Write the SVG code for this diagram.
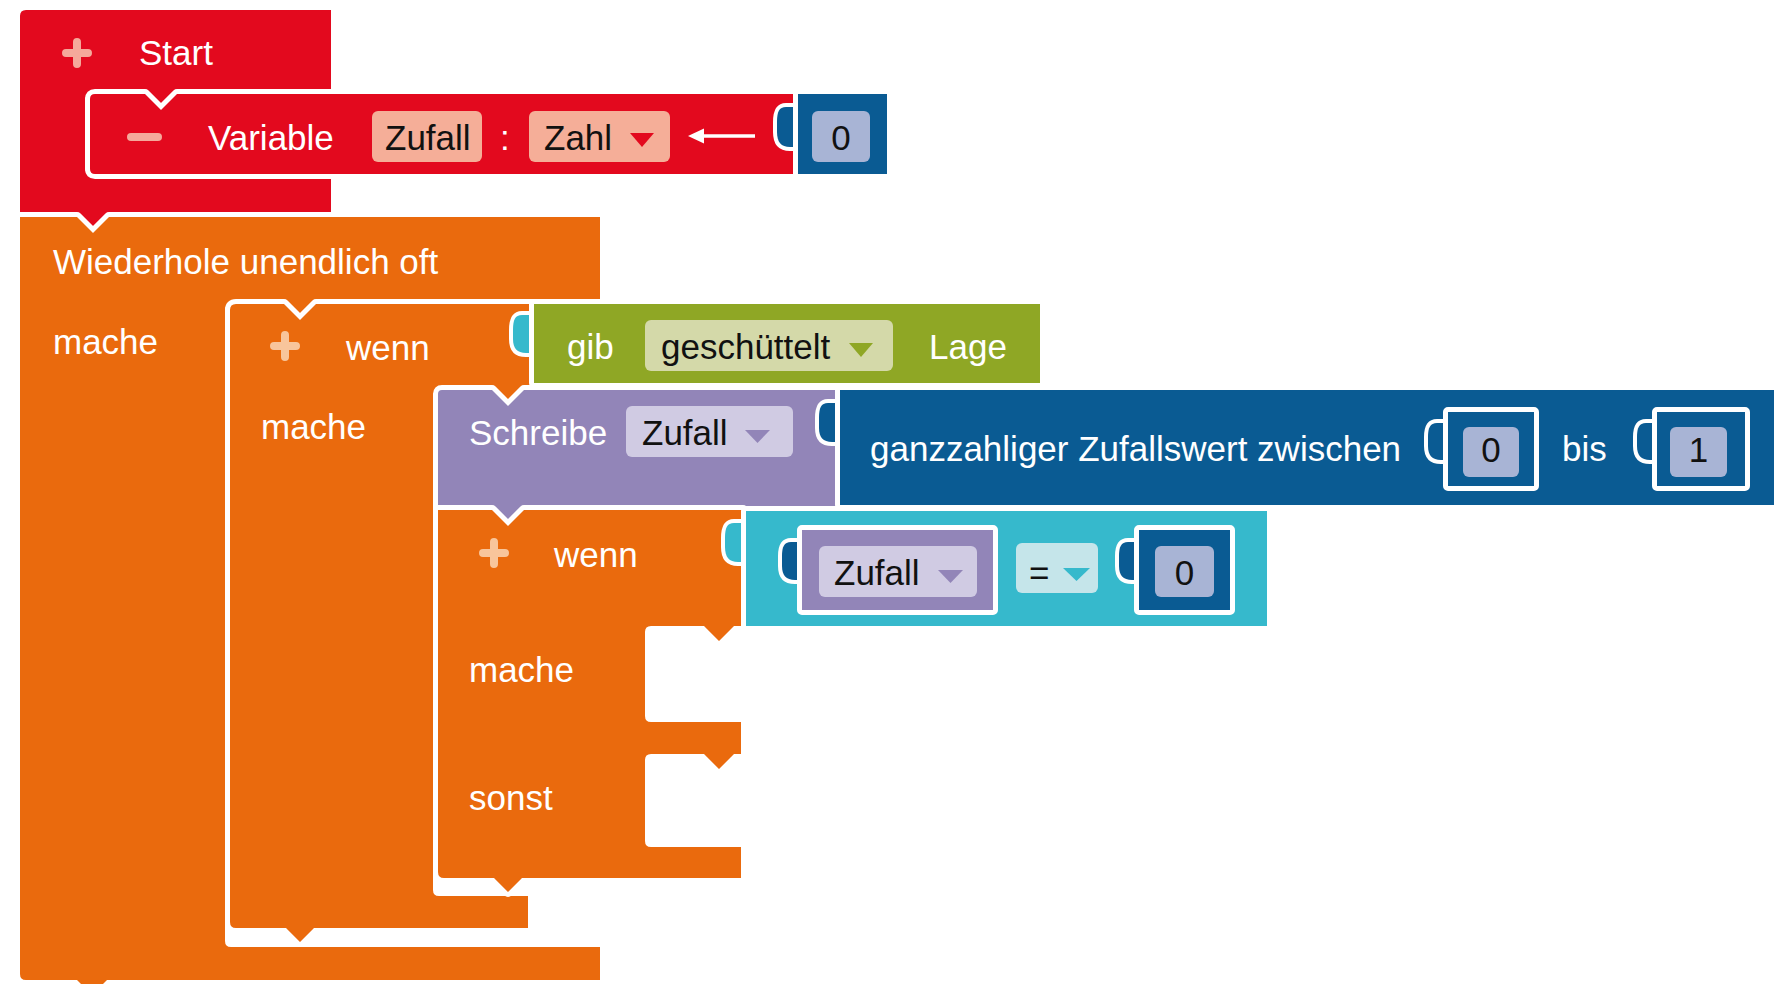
<svg xmlns="http://www.w3.org/2000/svg" width="1776" height="984" viewBox="0 0 1776 984">
  <style>
    .blk { stroke: #ffffff; stroke-width: 10; paint-order: stroke; stroke-linejoin: round; }
    .tab { stroke: #ffffff; stroke-width: 8; paint-order: stroke; stroke-linejoin: round; }
    .red { fill: #e3091e; }
    .orange { fill: #ea6a0d; }
    .green { fill: #8fa725; }
    .purple { fill: #9285b8; }
    .navy { fill: #0a5b93; }
    .teal { fill: #36b9cc; }
    .t { font-family: "Liberation Sans", Arial, Helvetica, sans-serif; font-size: 35px; fill: #ffffff; }
    .k { fill: #111111; }
    .mid { text-anchor: middle; }
    .fld { rx: 6; ry: 6; }
    .icoR { stroke: #f5a99b; stroke-width: 8; stroke-linecap: round; fill: none; }
    .icoO { stroke: #f8c59b; stroke-width: 8; stroke-linecap: round; fill: none; }
  </style>

  <rect width="1776" height="984" fill="#ffffff"/>

  <!-- Start event block -->
  <g id="start">
    <path class="blk red" d="M26,10 H331 V94 H177 L161,110 L145,94 H91 Q85,94 85,100 V168 Q85,174 91,174 H331 V217 H109 L93,233 L77,217 H20 V16 Q20,10 26,10 Z"/>
    <path class="icoR" d="M66,53 H88 M77,42 V64"/>
    <text class="t" x="139" y="65">Start</text>
  </g>

  <!-- Variable declaration -->
  <g id="variable">
    <path class="blk red" d="M95,94 H145 L161,110 L177,94 H800 V174 H95 Q90,174 90,169 V99 Q90,94 95,94 Z"/>
    <path class="icoR" d="M131,137 H158"/>
    <text class="t" x="208" y="150">Variable</text>
    <rect class="fld" x="372" y="111" width="110" height="51" fill="#f5ae98"/>
    <text class="t k" x="385" y="150">Zufall</text>
    <text class="t" x="500" y="150">:</text>
    <rect class="fld" x="529" y="111" width="141" height="51" fill="#f5ae98"/>
    <text class="t k" x="544" y="150">Zahl</text>
    <path d="M630,133 H654 L642,147 Z" fill="#e3091e"/>
  </g>

  <!-- Number 0 attached to variable -->
  <g id="var-value">
    <path class="tab navy" d="M798,107 H786 C779,107 777,112 777,122 V132 C777,142 781,147 790,147 H798 Z"/>
    <rect class="blk navy" x="798" y="94" width="89" height="80"/>
    <rect class="fld" x="812" y="111" width="58" height="51" fill="#a8b4d5"/>
    <text class="t k mid" x="841" y="150">0</text>
  </g>

  <!-- Repeat forever -->
  <g id="forever">
    <path class="blk orange" d="M20,217 H77 L93,233 L109,217 H600 V304 H316 L300,320 L284,304 H231 Q225,304 225,310 V941 Q225,947 231,947 H600 V980 H107 L92,995 L77,980 H26 Q20,980 20,974 Z"/>
    <text class="t" x="53" y="274">Wiederhole unendlich oft</text>
    <text class="t" x="53" y="354">mache</text>
  </g>

  <!-- Outer if block -->
  <g id="if-outer">
    <path class="blk orange" d="M236,304 H284 L300,320 L316,304 H536 V390 H524 L508,406 L492,390 H439 Q433,390 433,396 V890 Q433,896 439,896 H528 V928 H314 L300,942 L286,928 H236 Q230,928 230,922 V310 Q230,304 236,304 Z"/>
    <path class="icoO" d="M274,346 H296 M285,335 V357"/>
    <text class="t" x="346" y="360">wenn</text>
    <text class="t" x="261" y="439">mache</text>
  </g>

  <!-- Gesture condition -->
  <g id="gesture">
    <path class="tab teal" d="M534,315 H522 C515,315 513,320 513,330 V339 C513,348 517,353 526,353 H534 Z"/>
    <rect class="blk green" x="534" y="304" width="506" height="79"/>
    <text class="t" x="567" y="359">gib</text>
    <rect class="fld" x="645" y="320" width="248" height="51" fill="#d4d9a9"/>
    <text class="t k" x="661" y="359">geschüttelt</text>
    <path d="M849,343 H873 L861,357 Z" fill="#8fa725"/>
    <text class="t" x="929" y="359">Lage</text>
  </g>

  <!-- Set variable statement -->
  <g id="write">
    <path class="blk purple" d="M442,390 H492 L508,406 L524,390 H842 V510 H524 L508,526 L492,510 H438 V394 Q438,390 442,390 Z"/>
    <text class="t" x="469" y="445">Schreibe</text>
    <rect class="fld" x="626" y="406" width="167" height="51" fill="#d0cbe3"/>
    <text class="t k" x="642" y="445">Zufall</text>
    <path d="M745,430 H770 L757.5,443 Z" fill="#9285b8"/>
  </g>

  <!-- Random integer expression -->
  <g id="random">
    <path class="tab navy" d="M840,403 H828 C821,403 819,408 819,418 V428 C819,437 823,442 832,442 H840 Z"/>
    <rect class="blk navy" x="840" y="390" width="934" height="115"/>
    <text class="t" x="870" y="461">ganzzahliger Zufallswert zwischen</text>
    <path class="tab navy" d="M1448,423 H1437 C1430,423 1428,428 1428,437 V446 C1428,455 1432,460 1441,460 H1448 Z"/>
    <rect class="blk navy" x="1448" y="412" width="86" height="74"/>
    <rect class="fld" x="1463" y="427" width="56" height="50" fill="#a8b4d5"/>
    <text class="t k mid" x="1491" y="462">0</text>
    <text class="t" x="1562" y="461">bis</text>
    <path class="tab navy" d="M1657,423 H1646 C1639,423 1637,428 1637,437 V446 C1637,455 1641,460 1650,460 H1657 Z"/>
    <rect class="blk navy" x="1657" y="412" width="88" height="74"/>
    <rect class="fld" x="1670" y="427" width="57" height="50" fill="#a8b4d5"/>
    <text class="t k mid" x="1698.5" y="462">1</text>
  </g>

  <!-- Inner if / else block -->
  <g id="if-else">
    <path class="blk orange" d="M438,510 H492 L508,526 L524,510 H743 V626 H734 L719,641 L704,626 H651 Q645,626 645,632 V716 Q645,722 651,722 H741 V754 H734 L719,769 L704,754 H651 Q645,754 645,760 V841 Q645,847 651,847 H741 V878 H522 L508,892 L494,878 H444 Q438,878 438,872 Z"/>
    <path class="icoO" d="M483,553 H505 M494,542 V564"/>
    <text class="t" x="554" y="567">wenn</text>
    <text class="t" x="469" y="682">mache</text>
    <text class="t" x="469" y="810">sonst</text>
  </g>

  <!-- Comparison expression -->
  <g id="compare">
    <path class="tab teal" d="M746,523 H734 C727,523 725,528 725,538 V547 C725,557 729,562 738,562 H746 Z"/>
    <rect class="blk teal" x="746" y="511" width="521" height="115"/>
    <path class="tab navy" d="M802,542 H791 C784,542 782,547 782,556 V566 C782,575 786,580 795,580 H802 Z"/>
    <rect class="blk purple" x="802" y="530" width="191" height="80"/>
    <rect class="fld" x="819" y="546" width="158" height="51" fill="#d0cbe3"/>
    <text class="t k" x="834" y="585">Zufall</text>
    <path d="M938,570 H963 L950.5,583 Z" fill="#9285b8"/>
    <rect class="fld" x="1016" y="543" width="82" height="50" fill="#c5e5ea"/>
    <text class="t k" x="1029" y="585">=</text>
    <path d="M1063,568 H1090 L1076.5,581 Z" fill="#36b9cc"/>
    <path class="tab navy" d="M1139,542 H1128 C1121,542 1119,547 1119,556 V566 C1119,575 1123,580 1132,580 H1139 Z"/>
    <rect class="blk navy" x="1139" y="530" width="91" height="80"/>
    <rect class="fld" x="1155" y="546" width="59" height="51" fill="#a8b4d5"/>
    <text class="t k mid" x="1184.5" y="585">0</text>
  </g>

  <!-- Assignment arrow -->
  <g id="connectors">
    <line x1="700" y1="136" x2="755" y2="136" stroke="#ffffff" stroke-width="3.5"/>
    <path d="M688,136 L704,128.5 L704,143.5 Z" fill="#ffffff"/>
  </g>
</svg>
